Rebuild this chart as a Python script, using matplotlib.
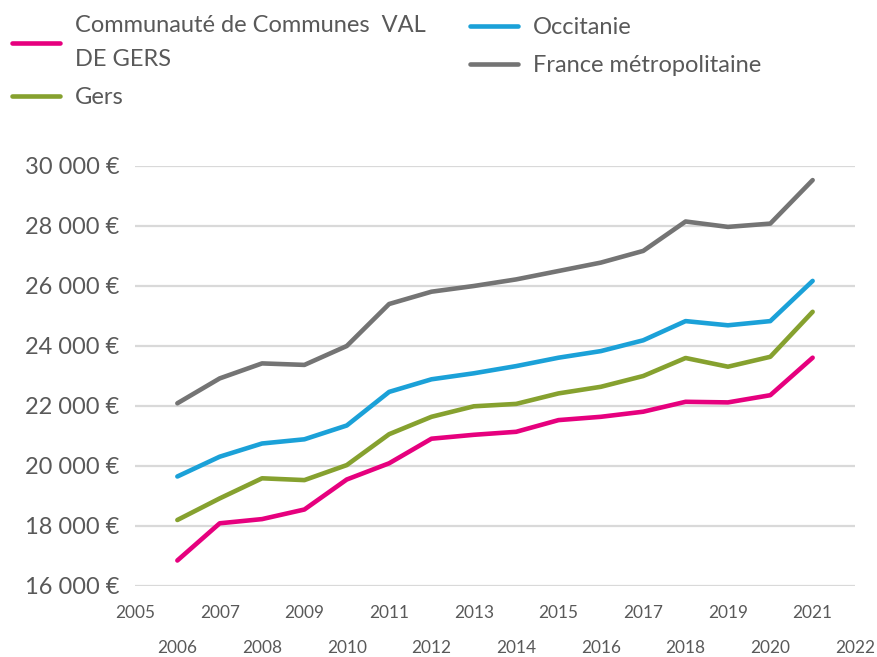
import matplotlib.pyplot as plt
from matplotlib.ticker import FuncFormatter

# revenu median par annee
years = list(range(2006, 2022))
cc_val_de_gers = [16850, 18090, 18230, 18550, 19550, 20090, 20910, 21040,
                  21140, 21530, 21640, 21810, 22140, 22120, 22360, 23610]
gers = [18200, 18920, 19590, 19530, 20030, 21060, 21640, 21990,
        22070, 22420, 22640, 23000, 23600, 23310, 23640, 25140]
occitanie = [19650, 20310, 20750, 20890, 21350, 22470, 22890, 23090,
             23330, 23610, 23830, 24190, 24830, 24690, 24830, 26170]
france = [22090, 22920, 23420, 23370, 24000, 25400, 25810, 26000,
          26220, 26500, 26780, 27170, 28150, 27970, 28080, 29530]

odd_years = list(range(2005, 2022, 2))
even_years = list(range(2006, 2023, 2))

plt.rcParams['font.family'] = ['Lato', 'DejaVu Sans']
grey_txt = '#595959'

fig = plt.figure(figsize=(8.77, 6.57), dpi=100)
ax = fig.add_axes([135/877, 1 - 586/657, 720/877, 420/657])

lw = 3.3
l_cc, = ax.plot(years, cc_val_de_gers, color='#E6007E', lw=lw, solid_capstyle='round', solid_joinstyle='round', clip_on=False)
l_gers, = ax.plot(years, gers, color='#86A12F', lw=lw, solid_capstyle='round', solid_joinstyle='round', clip_on=False)
l_occ, = ax.plot(years, occitanie, color='#1BA1D8', lw=lw, solid_capstyle='round', solid_joinstyle='round', clip_on=False)
l_fr, = ax.plot(years, france, color='#747474', lw=lw, solid_capstyle='round', solid_joinstyle='round', clip_on=False)

ax.set_xlim(2005, 2022)
ax.set_ylim(16000, 30000)
ax.set_yticks(range(16000, 30001, 2000))
ax.yaxis.set_major_formatter(FuncFormatter(lambda v, p: f"{int(v):,}".replace(",", " ") + " €"))
ax.grid(axis='y', color='#D9D9D9', lw=1.6)
ax.set_axisbelow(True)
for s in ax.spines.values():
    s.set_visible(False)

# annees decalees sur deux lignes
ax.set_xticks(odd_years)
ax.set_xticks(even_years, minor=True)
ax.set_xticklabels([str(y) for y in odd_years])
ax.set_xticklabels([str(y) for y in even_years], minor=True)
ax.tick_params(axis='x', which='major', length=0, pad=14, labelsize=12.4, labelcolor=grey_txt)
ax.tick_params(axis='x', which='minor', length=0, pad=39, labelsize=12.4, labelcolor=grey_txt)
ax.tick_params(axis='y', length=0, pad=11, labelsize=17, labelcolor=grey_txt)

leg_kw = dict(frameon=False, fontsize=17, borderpad=0, borderaxespad=0,
              handlelength=2.05, handletextpad=0.6, labelspacing=0.73,
              labelcolor=grey_txt, loc='upper left')
leg1 = fig.legend([l_cc, l_gers], ["Communauté de Communes  VAL\nDE GERS", "Gers"],
                  bbox_to_anchor=(12/877, 1 - 15/657), **leg_kw)
leg1.get_texts()[0].set_linespacing(1.77)
leg2 = fig.legend([l_occ, l_fr], ["Occitanie", "France métropolitaine"],
                  bbox_to_anchor=(470/877, 1 - 17/657), **leg_kw)

fig.savefig('out.png', dpi=100)
